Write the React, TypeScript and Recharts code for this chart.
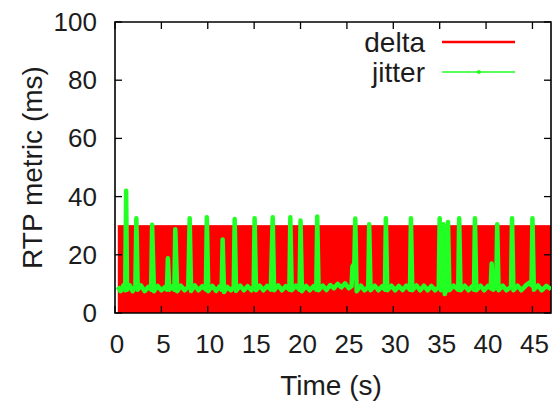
import {
  Area,
  ComposedChart,
  Legend,
  Line,
  ReferenceArea,
  XAxis,
  YAxis,
} from "recharts";

// values
const X_TICKS = [0, 5, 10, 15, 20, 25, 30, 35, 40, 45];
const Y_TICKS = [0, 20, 40, 60, 80, 100];
const X_MAX = 47;

// delta swings so fast between ~0 and 30 ms that it shows up as a solid block
const deltaSamples: [number, number][] = [
  [0.3, 30],
  [47, 30],
];

// jitter: [time (s), value (ms)]
const jitterSamples: [number, number][] = [
  [0.3, 9], [0.6, 7.5], [0.9, 9.5], [1.1, 7.8], [1.2, 42], [1.3, 8],
  [1.6, 9.5], [1.9, 7.5], [2.2, 9], [2.3, 32.6], [2.45, 8], [2.8, 9.5],
  [3.2, 7.5], [3.6, 9], [3.9, 8], [4.0, 30.3], [4.2, 7.5], [4.6, 9.3],
  [5.0, 7.8], [5.4, 9], [5.6, 8], [5.7, 18.8], [5.85, 8], [6.2, 9.2],
  [6.4, 8], [6.5, 28.8], [6.7, 7.5], [7.1, 9.4], [7.5, 7.8], [7.9, 9],
  [8.05, 32.6], [8.2, 7.6], [8.6, 9.5], [9.0, 7.8], [9.4, 9.2], [9.8, 8],
  [9.9, 32.9], [10.05, 7.5], [10.5, 9.3], [10.9, 7.6], [11.3, 9.2], [11.5, 8],
  [11.6, 25.3], [11.75, 7.2], [12.1, 9], [12.5, 7.8], [12.8, 9], [12.9, 32.3],
  [13.05, 7.6], [13.5, 9.4], [13.9, 7.8], [14.3, 9.2], [14.7, 7.8], [14.95, 9],
  [15.05, 32.6], [15.2, 7.8], [15.6, 9.4], [16.0, 7.8], [16.4, 9.3], [16.8, 8],
  [17.0, 32.9], [17.15, 7.8], [17.6, 9.5], [18.0, 7.8], [18.4, 9.2], [18.8, 8],
  [18.9, 32.9], [19.05, 7.8], [19.5, 9.4], [19.9, 8], [20.0, 31.8], [20.15, 7.5],
  [20.6, 9.3], [21.0, 7.8], [21.4, 9.2], [21.7, 8], [21.8, 33.2], [21.95, 7.8],
  [22.4, 9.4], [22.8, 7.9], [23.2, 9.6], [23.6, 8.5], [24.0, 10], [24.4, 8.8],
  [24.8, 10.2], [25.2, 8.5], [25.5, 9.2], [25.6, 16], [25.8, 17], [25.9, 32.5],
  [26.05, 7.5], [26.5, 9.4], [26.9, 7.8], [27.3, 9], [27.4, 30.5], [27.55, 7.8],
  [28.0, 9.4], [28.4, 7.8], [28.8, 9.2], [29.1, 8], [29.2, 32.6], [29.35, 7.8],
  [29.8, 9.4], [30.2, 7.8], [30.6, 9.3], [31.0, 7.9], [31.4, 9.4], [31.8, 8],
  [31.9, 32.6], [32.05, 7.8], [32.5, 9.5], [32.9, 7.8], [33.3, 9.4], [33.7, 7.8],
  [34.1, 9.3], [34.5, 7.8], [34.9, 9], [35.0, 32.6], [35.15, 7.8], [35.3, 9],
  [35.4, 30.5], [35.55, 6.5], [35.8, 9], [35.9, 31.3], [36.05, 7.8], [36.5, 9.4],
  [37.0, 8], [37.1, 32.6], [37.25, 7.8], [37.7, 9.4], [38.1, 7.8], [38.5, 9.2],
  [38.7, 8], [38.8, 32.6], [38.95, 7.8], [39.4, 9.4], [39.8, 7.8], [40.2, 9.3],
  [40.5, 8.5], [40.6, 17], [40.75, 8], [41.1, 9], [41.2, 30.5], [41.35, 7.8],
  [41.8, 9.4], [42.2, 7.8], [42.7, 9], [42.8, 32.6], [42.95, 7.8], [43.4, 9.4],
  [43.8, 7.8], [44.3, 9.5], [44.7, 10.5], [44.9, 9.5], [45.0, 32.6], [45.15, 8],
  [45.6, 9.5], [46.0, 7.8], [46.5, 9.3], [47.0, 8.2],
];

const deltaData = deltaSamples.map(([t, v]) => ({ t, delta: v }));
const jitterData = jitterSamples.map(([t, v]) => ({ t, jitter: v }));

const W = 554;
const H = 404;
const M_TOP = 22;
const M_RIGHT = 3;
const Y_AXIS_W = 115;
const X_AXIS_H = 91;
const PLOT_W = W - Y_AXIS_W - M_RIGHT;
const PLOT_H = H - M_TOP - X_AXIS_H;

const FONT = "'Liberation Sans', Arial, Helvetica, sans-serif";
const INK = "#1c1c1c";
const RED = "#ff0000";
const GREEN = "#22ff22";
const TICK_LEN = 7;

const XTick = (props: any) => {
  const { x, y, payload } = props;
  return (
    <g>
      <line x1={x} x2={x} y1={y} y2={y - TICK_LEN} stroke="#000" strokeWidth={1.3} />
      <line x1={x} x2={x} y1={y - PLOT_H} y2={y - PLOT_H + TICK_LEN} stroke="#000" strokeWidth={1.3} />
      <text x={x + 2} y={y + 40} textAnchor="middle" fontFamily={FONT} fontSize={26} fill={INK}>
        {payload.value}
      </text>
    </g>
  );
};

const YTick = (props: any) => {
  const { x, y, payload } = props;
  return (
    <g>
      <line x1={x} x2={x + TICK_LEN} y1={y} y2={y} stroke="#000" strokeWidth={1.3} />
      <line x1={x + PLOT_W} x2={x + PLOT_W - TICK_LEN} y1={y} y2={y} stroke="#000" strokeWidth={1.3} />
      <text x={x - 18} y={y + 9} textAnchor="end" fontFamily={FONT} fontSize={26} fill={INK}>
        {payload.value}
      </text>
    </g>
  );
};

const XLabel = (props: any) => {
  const vb = props.viewBox;
  return (
    <text x={vb.x + vb.width / 2 - 2} y={vb.y + 82} textAnchor="middle" fontFamily={FONT} fontSize={28} fill={INK}>
      Time (s)
    </text>
  );
};

const YLabel = (props: any) => {
  const vb = props.viewBox;
  const cy = vb.y + vb.height / 2;
  return (
    <text
      x={42}
      y={cy}
      transform={`rotate(-90 42 ${cy})`}
      textAnchor="middle"
      fontFamily={FONT}
      fontSize={28}
      fill={INK}
    >
      RTP metric (ms)
    </text>
  );
};

const KeyBox = () => (
  <svg width={W} height={100} style={{ display: "block" }}>
    <text x={425} y={52} textAnchor="end" fontFamily={FONT} fontSize={28} fill={INK}>
      delta
    </text>
    <line x1={442} x2={515} y1={42} y2={42} stroke={RED} strokeWidth={2.5} />
    <text x={425} y={82} textAnchor="end" fontFamily={FONT} fontSize={28} fill={INK}>
      jitter
    </text>
    <line x1={442} x2={515} y1={72} y2={72} stroke={GREEN} strokeWidth={1.5} />
    <circle cx={479} cy={72} r={2} fill={GREEN} />
  </svg>
);

export default function App() {
  return (
    <div style={{ position: "absolute", left: 0, top: 0, background: "#fff" }}>
      <ComposedChart
        width={W}
        height={H}
        margin={{ top: M_TOP, right: M_RIGHT, left: 0, bottom: 0 }}
      >
        <XAxis
          dataKey="t"
          type="number"
          domain={[0, X_MAX]}
          ticks={X_TICKS}
          allowDataOverflow
          height={X_AXIS_H}
          tickSize={0}
          tickMargin={0}
          axisLine={false}
          tick={<XTick />}
          label={<XLabel />}
        />
        <YAxis
          type="number"
          domain={[0, 100]}
          ticks={Y_TICKS}
          allowDataOverflow
          width={Y_AXIS_W}
          tickSize={0}
          tickMargin={0}
          axisLine={false}
          tick={<YTick />}
          label={<YLabel />}
        />
        <Legend
          layout="horizontal"
          verticalAlign="middle"
          align="center"
          wrapperStyle={{ left: 0, top: 0, width: W, height: 100, pointerEvents: "none" }}
          content={() => <KeyBox />}
        />
        <Area
          data={deltaData}
          dataKey="delta"
          type="linear"
          stroke={RED}
          strokeWidth={1}
          fill={RED}
          fillOpacity={1}
          isAnimationActive={false}
        />
        <Line
          data={jitterData}
          dataKey="jitter"
          type="linear"
          stroke={GREEN}
          strokeWidth={4.5}
          strokeLinejoin="round"
          dot={false}
          isAnimationActive={false}
        />
        <ReferenceArea
          x1={0}
          x2={X_MAX}
          y1={0}
          y2={100}
          fill="none"
          stroke="#000"
          strokeWidth={1.6}
          ifOverflow="visible"
        />
      </ComposedChart>
    </div>
  );
}
